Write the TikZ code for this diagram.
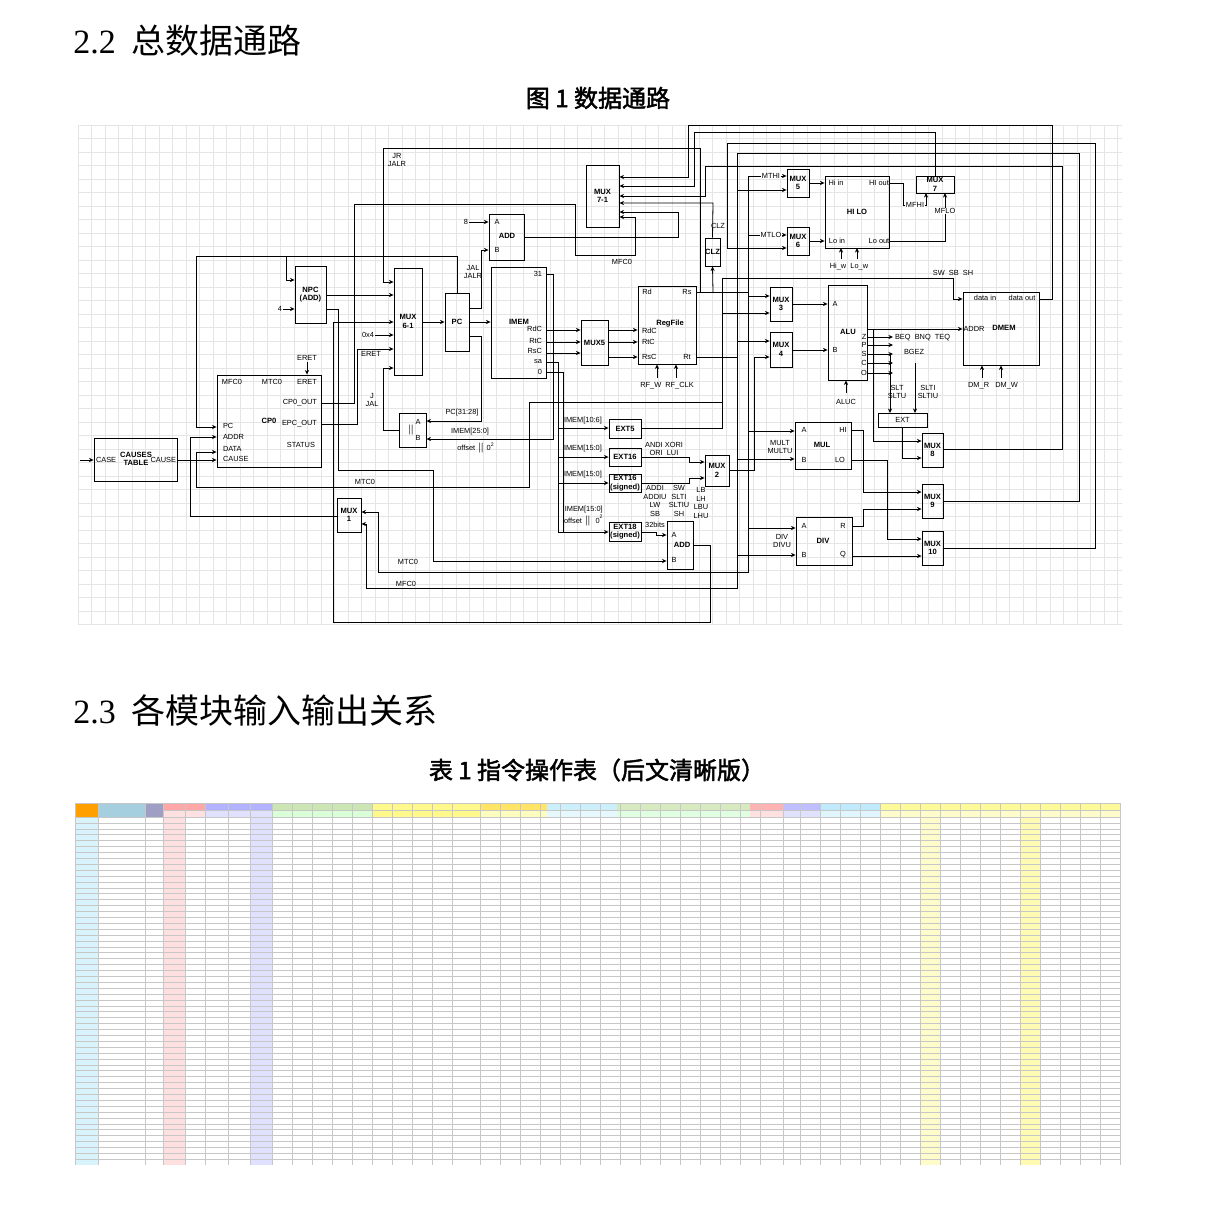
\documentclass[tikz,border=0pt]{standalone}
\usepackage{fontspec}
\setmainfont{Liberation Serif}
\newfontfamily\cjk[AutoFakeBold=2]{Noto Sans CJK SC}
\newfontfamily\dia{Liberation Sans}
\usetikzlibrary{fit,arrows.meta}
\begin{document}
\begin{tikzpicture}[x=0.5pt,y=-0.5pt,
  font=\dia\fontsize{3.7}{4.2}\selectfont,
  blk/.style={draw,line width=0.45pt,inner sep=0},
  ln/.style={line width=0.4pt},
  arr/.style={ln,-{Stealth[length=2.3pt,width=2.1pt]}},
  t/.style={inner sep=0.3pt,align=center},
  tb/.style={t,font=\dia\bfseries\fontsize{3.8}{4.3}\selectfont},
  wl/.style={t,fill=white},
  gridc/.style={line width=0.3pt,black!10},
  tgrid/.style={line width=0.25pt,black!22}]
\useasboundingbox (0,0) rectangle (1214,1210);
\fill[white] (0,0) rectangle (1214,1210);
% headings
\node[anchor=base west,inner sep=0] (h1) at (73,53) {\rmfamily\fontsize{17}{20}\selectfont 2.2\hspace{8pt}{\cjk 总数据通路}};
\node[inner sep=0] (c1) at (598,98) {\cjk\bfseries\fontsize{12}{14}\selectfont 图\ 1\ 数据通路};
\node[anchor=base west,inner sep=0] (h2) at (73,723) {\rmfamily\fontsize{17}{20}\selectfont 2.3\hspace{8pt}{\cjk 各模块输入输出关系}};
\node[inner sep=0] (c2) at (597,770) {\cjk\bfseries\fontsize{12}{14}\selectfont 表\ 1\ 指令操作表（后文清晰版）};
% grid
\foreach \i in {0,...,77} \draw[gridc] ({78+\i*13.5},125) -- ({78+\i*13.5},625);
\foreach \j in {0,...,37} \draw[gridc] (78,{125+\j*13.5}) -- (1122,{125+\j*13.5});
% blocks
\node[blk,fit={(94,438)(177,481)}] (ct) {};
\node[blk,fit={(217,375)(321,467)}] (cp0) {};
\node[blk,fit={(295,266)(326,323)}] (npc) {};
\node[blk,fit={(394,268)(422,375)}] (mux61) {};
\node[blk,fit={(445,293)(469,351)}] (pc) {};
\node[blk,fit={(489,214)(524,260)}] (addt) {};
\node[blk,fit={(491,267)(546,378)}] (imem) {};
\node[blk,fit={(399,413)(426,447)}] (ab) {};
\node[blk,fit={(337,498)(361,532)}] (mux1) {};
\node[blk,fit={(586,165)(619,227)}] (mux71) {};
\node[blk,fit={(581,320)(608,365)}] (mux5) {};
\node[blk,fit={(705,238)(720,266)}] (clz) {};
\node[blk,fit={(638,286)(696,364)}] (rf) {};
\node[blk,fit={(609,419)(641,438)}] (ext5) {};
\node[blk,fit={(609,448)(641,466)}] (ext16) {};
\node[blk,fit={(609,474)(641,492)}] (ext16s) {};
\node[blk,fit={(609,522)(641,541)}] (ext18) {};
\node[blk,fit={(705,455)(729,486)}] (mux2) {};
\node[blk,fit={(667,521)(693,569)}] (addb) {};
\node[blk,fit={(787,169)(809,197)}] (muxh) {};
\node[blk,fit={(787,227)(809,255)}] (muxl) {};
\node[blk,fit={(825,176)(889,248)}] (hilo) {};
\node[blk,fit={(916,176)(954,193)}] (mux7) {};
\node[blk,fit={(770,287)(792,321)}] (mux3) {};
\node[blk,fit={(770,332)(792,367)}] (mux4) {};
\node[blk,fit={(828,285)(867,380)}] (alu) {};
\node[blk,fit={(963,292)(1039,365)}] (dmem) {};
\node[blk,fit={(878,413)(927,427)}] (ext) {};
\node[blk,fit={(795,422)(851,469)}] (mul) {};
\node[blk,fit={(796,517)(852,565)}] (div) {};
\node[blk,fit={(922,433)(943,467)}] (mux8) {};
\node[blk,fit={(922,484)(943,518)}] (mux9) {};
\node[blk,fit={(922,531)(943,565)}] (mux10) {};
% block labels
\node[tb] at (136,459) {CAUSES\\TABLE};
\node[t,anchor=west] at (95,460) {CASE};
\node[t,anchor=east] at (177,460) {CAUSE};
\node[tb] at (269,421) {CP0};
\node[t] at (232,382) {MFC0};
\node[t] at (272,382) {MTC0};
\node[t] at (307,382) {ERET};
\node[t,anchor=east] at (318,403) {CP0\_OUT};
\node[t,anchor=east] at (318,424) {EPC\_OUT};
\node[t,anchor=east] at (316,445) {STATUS};
\node[t,anchor=west] at (222,426) {PC};
\node[t,anchor=west] at (222,437) {ADDR};
\node[t,anchor=west] at (222,449) {DATA};
\node[t,anchor=west] at (222,459) {CAUSE};
\node[tb] at (npc.center) {NPC\\(ADD)};
\node[tb] at (mux61.center) {MUX\\6-1};
\node[tb] at (pc.center) {PC};
\node[t] at (497,222) {A};
\node[tb] at (507,236) {ADD};
\node[t] at (497,250) {B};
\node[tb] at (519,322) {IMEM};
\node[t,anchor=east] at (543,274) {31};
\node[t,anchor=east] at (543,329) {RdC};
\node[t,anchor=east] at (543,341) {RtC};
\node[t,anchor=east] at (543,351) {RsC};
\node[t,anchor=east] at (543,362) {sa};
\node[t,anchor=east] at (543,372) {0};
\node[t] at (418,422) {A};
\node[t] at (411,430) {$\|$};
\node[t] at (418,438) {B};
\node[tb] at (mux1.center) {MUX\\1};
\node[tb] at (mux71.center) {MUX\\7-1};
\node[tb] at (mux5.center) {MUX5};
\node[tb] at (clz.center) {CLZ};
\node[t] at (647,292) {Rd};
\node[t] at (687,292) {Rs};
\node[tb] at (670,324) {RegFile};
\node[t,anchor=west] at (641,331) {RdC};
\node[t,anchor=west] at (641,342) {RtC};
\node[t,anchor=west] at (641,357) {RsC};
\node[t] at (687,357) {Rt};
\node[tb] at (ext5.center) {EXT5};
\node[tb] at (ext16.center) {EXT16};
\node[tb] at (ext16s.center) {EXT16\\(signed)};
\node[tb] at (ext18.center) {EXT18\\(signed)};
\node[tb] at (mux2.center) {MUX\\2};
\node[t] at (674,535) {A};
\node[tb] at (682,545) {ADD};
\node[t] at (674,560) {B};
\node[tb] at (muxh.center) {MUX\\5};
\node[tb] at (muxl.center) {MUX\\6};
\node[t] at (836,183) {Hi in};
\node[t] at (879,183) {HI out};
\node[tb] at (857,212) {HI LO};
\node[t] at (837,241) {Lo in};
\node[t] at (879,241) {Lo out};
\node[tb] at (mux7.center) {MUX\\7};
\node[tb] at (mux3.center) {MUX\\3};
\node[tb] at (mux4.center) {MUX\\4};
\node[t] at (835,304) {A};
\node[tb] at (848,332) {ALU};
\node[t] at (835,350) {B};
\foreach \l/\y in {Z/337,P/345,S/354,C/363,O/373} \node[t] at (864,\y) {\l};
\node[t] at (985,298) {data in};
\node[t] at (1022,298) {data out};
\node[t] at (974,329) {ADDR};
\node[tb] at (1004,328) {DMEM};
\node[t] at (ext.center) {EXT};
\node[t] at (804,430) {A};
\node[t] at (843,430) {HI};
\node[tb] at (822,445) {MUL};
\node[t] at (804,460) {B};
\node[t] at (840,460) {LO};
\node[t] at (804,526) {A};
\node[t] at (843,526) {R};
\node[tb] at (823,541) {DIV};
\node[t] at (804,555) {B};
\node[t] at (843,555) {Q};
\node[tb] at (mux8.center) {MUX\\8};
\node[tb] at (mux9.center) {MUX\\9};
\node[tb] at (mux10.center) {MUX\\10};
% connectors
\coordinate (cin) at (80,460);
\draw[arr] (cin) -- (ct.west|-0,460);
\draw[arr] (ct.east|-0,460) -- (cp0.west|-0,460);
\draw[ln] (pc.north-|457,0) -- (457,256) -- (196,256);
\draw[arr] (196,256) -- (196,427) -- (cp0.west|-0,427);
\draw[arr] (286,256) -- (286,280) -- (npc.west|-0,280);
\node[t] (four) at (280,309) {4};
\draw[arr] (four) -- (npc.west|-0,309);
\draw[arr] (npc.east|-0,295) -- (mux61.west|-0,295);
\draw[arr] (npc.east|-0,309) -- (338,309) -- (338,470) -- (433,470) -- (433,561) -- (addb.west|-0,561);
\draw[arr] (addb.east|-0,545) -- (710,545) -- (710,622) -- (333,622) -- (333,322) -- (mux61.west|-0,322);
\node[t] (ox4) at (368,335) {0x4};
\draw[arr] (ox4) -- (mux61.west|-0,335);
\draw[arr] (cp0.east|-0,424) -- (357,424) -- (357,349) -- (mux61.west|-0,349);
\node[t] at (371,354) {ERET};
\draw[arr] (cp0.east|-0,403) -- (354,403) -- (354,204) -- (575,204) -- (575,255) -- (635,255) -- (635,217) -- (mux71.east|-0,217);
\node[t] at (622,262) {MFC0};
\draw[arr] (ab.west|-0,430) -- (383,430) -- (383,368) -- (mux61.west|-0,368);
\node[t] at (372,400) {J\\JAL};
\draw[arr] (700,292) -- (700,148) -- (383,148) -- (383,282) -- (mux61.west|-0,282);
\node[t] at (397,160) {JR\\JALR};
\draw[arr] (mux61.east|-0,322) -- (pc.west|-0,322);
\draw[arr] (pc.east|-0,322) -- (imem.west|-0,322);
\draw[arr] (pc.east|-0,308) -- (481,308) -- (481,250) -- (addt.west|-0,250);
\node[t] at (473,272) {JAL\\JALR};
\node[t] (eight) at (466,222) {8};
\draw[arr] (eight) -- (addt.west|-0,222);
\draw[arr] (addt.east|-0,237) -- (678,237) -- (678,212) -- (mux71.east|-0,212);
\draw[arr] (pc.east|-0,336) -- (481,336) -- (481,421) -- (ab.east|-0,421);
\node[t] at (462,413) {PC[31:28]};
\draw[arr] (imem.east|-0,274) -- (553,274) -- (553,439) -- (ab.east|-0,439);
\node[t] at (470,432) {IMEM[25:0]};
\node[t] at (476,448) {offset $\|$ 0\textsuperscript{2}};
\foreach \y in {330,342,353} \draw[arr] (imem.east|-0,\y) -- (mux5.west|-0,\y);
\foreach \y in {330,342,357} \draw[arr] (mux5.east|-0,\y) -- (rf.west|-0,\y);
\draw[arr] (rf.east|-0,292) -- (748,292) -- (748,296) -- (mux3.west|-0,296);
\draw[arr] (713,292) -- (clz.south);
\draw[arr] (clz.north) -- (713,203) -- (mux71.east|-0,203);
\node[t] at (718,226) {CLZ};
\draw[arr] (dmem.east|-0,299) -- (1052,299) -- (1052,125) -- (688,125) -- (688,177) -- (mux71.east|-0,177);
\draw[arr] (mux7.north) -- (935,132) -- (694,132) -- (694,186) -- (mux71.east|-0,186);
\draw[arr] (mux8.east|-0,449) -- (1062,449) -- (1062,166) -- (705,166) -- (705,196) -- (mux71.east|-0,196);
% x=737 bus (MUX9 out)
\draw[ln] (mux9.east|-0,501) -- (1079,501) -- (1079,153) -- (737,153) -- (737,588) -- (366,588);
\draw[arr] (366,588) -- (366,524) -- (mux1.east|-0,524);
\draw[arr] (737,190) -- (muxh.west|-0,190);
\draw[ln] (rf.east|-0,357) -- (737,357);
\draw[arr] (737,341) -- (mux4.west|-0,341);
\draw[arr] (737,459) -- (mul.west|-0,459);
\draw[arr] (737,555) -- (div.west|-0,555);
% x=748 bus
\draw[ln] (748,176) -- (748,572) -- (378,572);
\draw[arr] (378,572) -- (378,512) -- (mux1.east|-0,512);
\draw[arr] (748,176) -- (muxh.west|-0,176);
\draw[arr] (748,235) -- (muxl.west|-0,235);
\draw[arr] (748,431) -- (mul.west|-0,431);
\draw[arr] (748,528) -- (div.west|-0,528);
\node[wl] at (771,176) {MTHI};
\node[wl] at (771,235) {MTLO};
\node[t] at (408,562) {MTC0};
\node[t] at (406,584) {MFC0};
\draw[arr] (mux10.east|-0,548) -- (1095,548) -- (1095,143) -- (727,143) -- (727,248) -- (muxl.west|-0,248);
\draw[arr] (muxh.east|-0,183) -- (hilo.west|-0,183);
\draw[arr] (muxl.east|-0,241) -- (hilo.west|-0,241);
\draw[arr] (hilo.east|-0,183) -- (903,183) -- (903,205) -- (926,205) -- (926,193);
\draw[arr] (hilo.east|-0,241) -- (945,241) -- (945,193);
\node[wl] at (915,205) {MFHI};
\node[wl] at (945,211) {MFLO};
\draw[arr] (841,259) -- (841,248);
\draw[arr] (857,259) -- (857,248);
\node[t] at (849,267) {Hi\_w\ \ Lo\_w};
\draw[ln] (ext5.east|-0,428) -- (722,428) -- (722,278) -- (953,278) -- (953,299);
\draw[arr] (953,299) -- (dmem.west|-0,299);
\node[t] at (953,273) {SW\ \ SB\ \ SH};
\draw[arr] (722,313) -- (mux3.west|-0,313);
\draw[ln] (196,487) -- (529,487) -- (529,402) -- (722,402);
\draw[arr] (196,487) -- (196,452) -- (cp0.west|-0,452);
\node[t] at (365,482) {MTC0};
\draw[arr] (mux1.west|-0,516) -- (190,516) -- (190,437) -- (cp0.west|-0,437);
\node[t] (eret) at (307,358) {ERET};
\draw[arr] (eret) -- (cp0.north-|307,0);
\draw[ln] (imem.east|-0,362) -- (558,362) -- (558,532);
\draw[ln] (imem.east|-0,372) -- (563,372) -- (563,532);
\draw[arr] (558,428) -- (ext5.west|-0,428);
\draw[arr] (558,457) -- (ext16.west|-0,457);
\draw[arr] (558,483) -- (ext16s.west|-0,483);
\draw[arr] (558,532) -- (ext18.west|-0,532);
\node[t,anchor=west] at (563,421) {IMEM[10:6]};
\node[t,anchor=west] at (563,449) {IMEM[15:0]};
\node[t,anchor=west] at (563,475) {IMEM[15:0]};
\node[t,anchor=west] at (563,516) {IMEM[15:0]\\offset\ $\|$\ \ 0\textsuperscript{2}};
\draw[arr] (ext16.east|-0,457) -- (689,457) -- (689,462) -- (mux2.west|-0,462);
\draw[arr] (ext16s.east|-0,483) -- (689,483) -- (689,478) -- (mux2.west|-0,478);
\node[t] at (664,449) {ANDI XORI\\ORI\ \ LUI};
\node[t] at (655,501) {ADDI\\ADDIU\\LW\\SB};
\node[t] at (679,501) {SW\\SLTI\\SLTIU\\SH};
\node[t] at (701,503) {LB\\LH\\LBU\\LHU};
\draw[arr] (mux2.east|-0,470) -- (754,470) -- (754,357) -- (mux4.west|-0,357);
\draw[arr] (ext18.east|-0,532) -- (656,532) -- (656,535) -- (addb.west|-0,535);
\node[t] at (655,525) {32bits};
\draw[arr] (mux3.east|-0,304) -- (alu.west|-0,304);
\draw[arr] (mux4.east|-0,350) -- (alu.west|-0,350);
\draw[arr] (alu.east|-0,329) -- (dmem.west|-0,329);
\draw[arr] (873,329) -- (873,441) -- (mux8.west|-0,441);
\foreach \y in {337,345,354,363,373} \draw[arr] (alu.east|-0,\y) -- (893,\y);
\node[t,anchor=west] at (894,338) {BEQ\ \ BNQ\ \ TEQ};
\node[t,anchor=west] at (903,352) {BGEZ};
\draw[arr] (890,354) -- (890,413);
\draw[arr] (915,363) -- (915,413);
\node[t] at (897,392) {SLT\\SLTU};
\node[t] at (928,392) {SLTI\\SLTIU};
\draw[arr] (ext.south-|902,0) -- (902,458) -- (mux8.west|-0,458);
\draw[arr] (846,393) -- (alu.south-|846,0);
\node[t] at (846,402) {ALUC};
\draw[arr] (657,378) -- (rf.south-|657,0);
\draw[arr] (676,378) -- (rf.south-|676,0);
\node[t] at (667,386) {RF\_W\ \ RF\_CLK};
\draw[arr] (982,378) -- (dmem.south-|982,0);
\draw[arr] (1001,378) -- (dmem.south-|1001,0);
\node[t] at (993,386) {DM\_R\ \ \ DM\_W};
\node[t] at (780,447) {MULT\\MULTU};
\node[t] at (782,541) {DIV\\DIVU};
\draw[arr] (mul.east|-0,430) -- (863,430) -- (863,492) -- (mux9.west|-0,492);
\draw[arr] (div.east|-0,526) -- (863,526) -- (863,509) -- (mux9.west|-0,509);
\draw[arr] (mul.east|-0,460) -- (887,460) -- (887,539) -- (mux10.west|-0,539);
\draw[arr] (div.east|-0,556) -- (mux10.west|-0,556);
% ===== table =====
\fill[orange!75!yellow] (75,803) rectangle (98,817);
\fill[cyan!35!teal!40] (98,803) rectangle (145,817);
\fill[blue!25!gray!60] (145,803) rectangle (163,817);
\fill[red!35] (163,803) rectangle (205,810);
\fill[blue!30] (205,803) rectangle (272,810);
\fill[green!35!olive!30] (272,803) rectangle (372,810);
\fill[yellow!45] (372,803) rectangle (480,817);
\fill[orange!35!yellow!60] (480,803) rectangle (547,810);
\fill[cyan!20] (547,803) rectangle (617,810);
\fill[green!30!olive!25] (617,803) rectangle (750,810);
\fill[red!30] (750,803) rectangle (783,810);
\fill[blue!25] (783,803) rectangle (820,810);
\fill[cyan!25] (820,803) rectangle (880,810);
\fill[yellow!40] (880,803) rectangle (1120,810);
\fill[red!12] (163,810) rectangle (205,817);
\fill[blue!12] (205,810) rectangle (272,817);
\fill[green!15] (272,810) rectangle (372,817);
\fill[yellow!25] (480,810) rectangle (547,817);
\fill[cyan!10] (547,810) rectangle (617,817);
\fill[green!12] (617,810) rectangle (750,817);
\fill[red!12] (750,810) rectangle (783,817);
\fill[blue!12] (783,810) rectangle (820,817);
\fill[cyan!12] (820,810) rectangle (880,817);
\fill[yellow!20] (880,810) rectangle (1120,817);
\fill[blue!12] (250,817) rectangle (272,1165);
\fill[red!12] (163,817) rectangle (185,1165);
\fill[yellow!30] (1020,817) rectangle (1040,1165);
\fill[yellow!20] (920,817) rectangle (940,1165);
\fill[cyan!15] (75,817) rectangle (98,1165);
\foreach \x in {75,98,145,163,185,205,228,250,272,292,312,332,352,372,392,412,432,452,480,500,520,540,560,580,600,620,640,660,680,700,720,740,760,783,800,820,840,860,880,900,920,940,960,980,1000,1020,1040,1060,1080,1100,1120}
  \draw[tgrid] (\x,803) -- (\x,1165);
\foreach \j in {0,...,58} \draw[tgrid] (75,{817+\j*5.9}) -- (1120,{817+\j*5.9});
\draw[tgrid] (75,803) -- (1120,803);
\draw[tgrid] (163,810) -- (1120,810);
\end{tikzpicture}
\end{document}
